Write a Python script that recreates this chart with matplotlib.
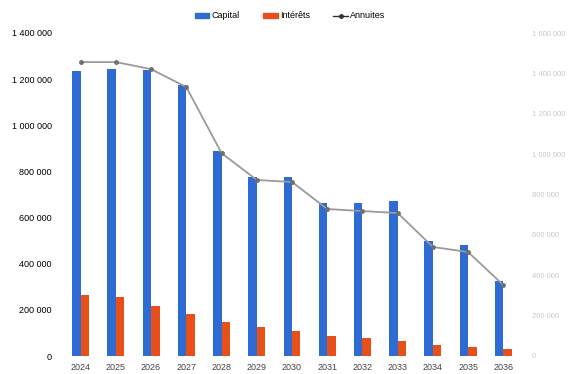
import numpy as np
import matplotlib
matplotlib.use("Agg")
import matplotlib.pyplot as plt
from matplotlib.patches import Patch
from matplotlib.lines import Line2D

plt.rcParams['font.family'] = ['Liberation Sans', 'DejaVu Sans']

annees = ['2024', '2025', '2026', '2027', '2028', '2029', '2030',
          '2031', '2032', '2033', '2034', '2035', '2036']
capital = [1235000, 1243000, 1239000, 1174000, 887000, 774000, 778000,
           661000, 665000, 670000, 500000, 483000, 326000]
interets = [265000, 257000, 217000, 183000, 148000, 126000, 109000,
            87000, 78000, 65000, 48000, 39000, 30000]
annuites = [1456000, 1456000, 1421000, 1332000, 1005000, 872000, 862000,
            728000, 718000, 708000, 540000, 515000, 351000]

bleu = '#2E6BD3'
orange = '#E8501A'
gris = '#9A9A9A'

W, H = 569, 374
fig = plt.figure(figsize=(W / 100, H / 100), dpi=100)
ax = fig.add_axes([63 / W, (H - 356) / H, (521 - 63) / W, (356 - 33) / H])

x = np.arange(len(annees))
w = 0.24
ax.bar(x - w / 2, capital, w, color=bleu, zorder=2)
ax.bar(x + w / 2, interets, w, color=orange, zorder=2)

ax.set_xlim(-0.5, len(annees) - 0.5)
ax.set_ylim(0, 1400000)
ax.set_yticks(np.arange(0, 1400001, 200000))
ax.set_yticklabels([f"{v:,.0f}".replace(",", " ") for v in np.arange(0, 1400001, 200000)])
ax.set_xticks(x)
ax.set_xticklabels(annees)
ax.tick_params(axis='y', length=0, labelsize=6.5, pad=8)
ax.tick_params(axis='x', length=0, labelsize=6.5, pad=5, colors='#444444')
for s in ax.spines.values():
    s.set_visible(False)

ax2 = ax.twinx()
ax2.plot(x, annuites, color=gris, lw=1.3, marker='o', ms=2.5,
         mfc='#707070', mec='#707070', zorder=3)
ax2.set_ylim(0, 1600000)
ax2.set_yticks(np.arange(0, 1600001, 200000))
ax2.set_yticklabels([f"{v:,.0f}".replace(",", " ") for v in np.arange(0, 1600001, 200000)])
ax2.tick_params(axis='y', length=0, labelsize=5.5, pad=8, colors='#C8C8C8')
for s in ax2.spines.values():
    s.set_visible(False)

handles = [Patch(color=bleu), Patch(color=orange),
           Line2D([0], [0], color='#333333', lw=1, marker='o', ms=2.5)]
fig.legend(handles, ['Capital', 'Intérêts', 'Annuites'], loc='center',
           bbox_to_anchor=(0.51, 1 - 16 / H), ncol=3, frameon=False,
           fontsize=6.5, handlelength=1.6, handleheight=0.55,
           columnspacing=2.6, handletextpad=0.25)

fig.savefig('out.png', dpi=100)
